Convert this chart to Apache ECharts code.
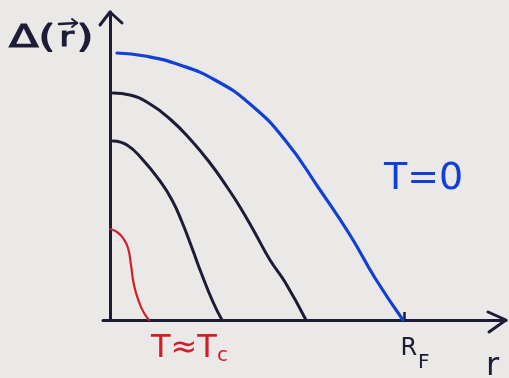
<!DOCTYPE html>
<html>
<head>
<meta charset="utf-8">
<style>
  html, body { margin: 0; padding: 0; background: #ebe8e8; }
  #chart { width: 509px; height: 378px; }
</style>
<script src="https://cdn.jsdelivr.net/npm/echarts@6/dist/echarts.min.js"></script>
</head>
<body>
<div id="chart"></div>
<script>
// Gap profile Δ(r) for decreasing gap at rising temperature, r measured from the centre.
const gapT0     = [[7,267],[35,264],[70,255],[105,240],[140,216],[175,180],[210,130],[240,85],[265,42],[293,0]];
const gapMid    = [[3,227],[20,225],[40,216],[60,201],[80,181],[100,157],[117,133],[130,113],[145,87],[160,60],[175,38],[196,0]];
const gapLow    = [[3,179],[17,175],[33,160],[50,139],[62,120],[72,98],[82,72],[92,45],[103,18],[112,0]];
const gapNearTc = [[0,91],[7,88],[13,82],[18,72],[21,55],[24,35],[29,18],[34,7],[39,0]];

// Fermi radius marked on the r axis
const fermiRadius = 294;

const ink = '#1c1c36';
const blue = '#1040d6';
const red = '#d21e26';

const chart = echarts.init(document.getElementById('chart'));

const curve = (data, color, width) => ({
  type: 'line', data: data, smooth: 0.5, symbol: 'none',
  lineStyle: { color: color, width: width, cap: 'round', join: 'round' }
});

chart.setOption({
  backgroundColor: '#ebe8e8',
  animation: false,
  grid: { left: 103, right: 3, top: 12, bottom: 58 },
  xAxis: {
    type: 'value', min: -7, max: 396,
    splitLine: { show: false },
    axisLine: { onZero: true, lineStyle: { color: ink, width: 3 } },
    axisTick: { show: true, customValues: [fermiRadius], inside: true, length: 8,
                lineStyle: { color: ink, width: 2.5 } },
    axisLabel: {
      show: true, customValues: [fermiRadius], margin: 17,
      formatter: function () { return '{r|R}{s|F}'; },
      rich: {
        r: { fontFamily: 'DejaVu Sans', fontSize: 24, color: ink, verticalAlign: 'top', padding: [0, 1, 0, 22] },
        s: { fontFamily: 'DejaVu Sans', fontSize: 20, color: ink, padding: [16, 0, 0, 0] }
      }
    }
  },
  yAxis: {
    type: 'value', min: 0, max: 308,
    splitLine: { show: false },
    axisLine: { onZero: true, lineStyle: { color: ink, width: 3 } },
    axisTick: { show: false },
    axisLabel: { show: false }
  },
  series: [
    curve(gapT0, blue, 3.2),
    curve(gapMid, ink, 3),
    curve(gapLow, ink, 3),
    curve(gapNearTc, red, 2.2)
  ]
});

// Open arrow heads at the ends of both axes, plus the hand-lettered labels
const yTip = chart.convertToPixel({ gridIndex: 0 }, [0, 308]);
const xTip = chart.convertToPixel({ gridIndex: 0 }, [396, 0]);
const marker = { stroke: ink, lineWidth: 3, fill: null, lineJoin: 'round', lineCap: 'round' };

chart.setOption({
  graphic: [
    { type: 'polyline', shape: { points: [[yTip[0] - 10, yTip[1] + 13], [yTip[0], yTip[1]], [yTip[0] + 12, yTip[1] + 11]] },
      style: marker },
    { type: 'polyline', shape: { points: [[xTip[0] - 18, xTip[1] - 8], [xTip[0], xTip[1]], [xTip[0] - 17, xTip[1] + 12]] },
      style: marker },
    // y-axis title Δ(r) with the vector arrow over r
    { type: 'text', x: 9, y: 23, scaleX: 1.35,
      style: { text: '{b|Δ(}{v|r}{b|)}', rich: {
        b: { font: '32px "DejaVu Sans"', fill: ink, stroke: ink, lineWidth: 1.2 },
        v: { font: '26px "DejaVu Sans"', fill: ink, stroke: ink, lineWidth: 1.2, padding: [0, 2, 0, 3] } } } },
    { type: 'polyline', shape: { points: [[59, 24], [77, 23]] },
      style: { stroke: ink, lineWidth: 2.5, lineCap: 'round' } },
    { type: 'polyline', shape: { points: [[72, 19], [77, 23], [72, 27]] },
      style: { stroke: ink, lineWidth: 2, fill: null, lineCap: 'round', lineJoin: 'round' } },
    { type: 'text', left: 486, top: 351,
      style: { text: 'r', font: '32px "DejaVu Sans"', fill: ink } },
    { type: 'text', left: 384, top: 160,
      style: { text: 'T=0', font: '38px "DejaVu Sans"', fill: blue } },
    { type: 'text', left: 151, top: 333,
      style: { text: '{a|T≈T}{b|c}', rich: {
        a: { font: '32px "DejaVu Sans"', fill: red, letterSpacing: 4 },
        b: { font: '20px "DejaVu Sans"', fill: red, padding: [14, 0, 0, 0] } } } }
  ]
});
</script>
</body>
</html>
